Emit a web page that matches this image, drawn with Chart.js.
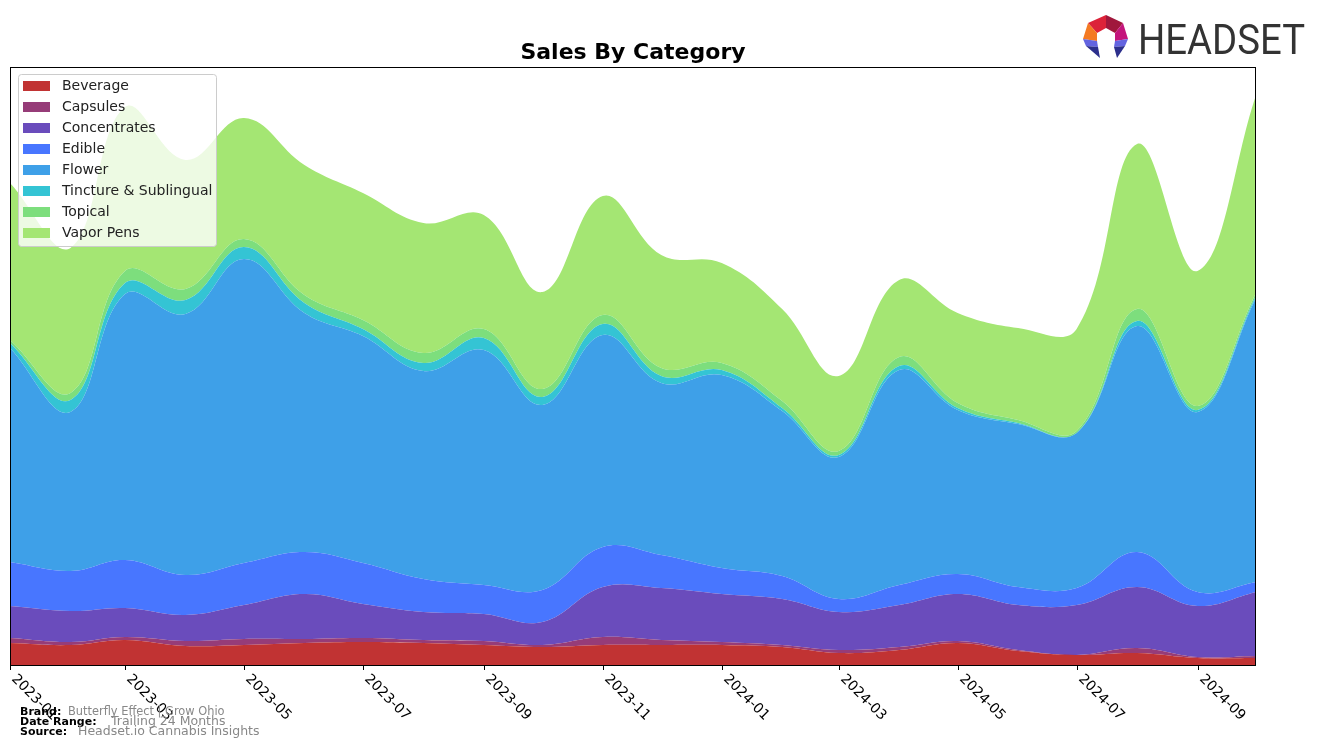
<!DOCTYPE html>
<html>
<head>
<meta charset="utf-8">
<script src="https://cdn.jsdelivr.net/npm/chart.js@4.4.1/dist/chart.umd.min.js"></script>
<style>
  body { margin: 0; background: #fff; }
  #wrap { width: 1320px; height: 748px; }
</style>
</head>
<body>
<div id="wrap"><canvas id="salesChart" width="1320" height="748"></canvas></div>
<script>
// Months on the x axis (one point per month)
const months = ['2023-01','2023-02','2023-03','2023-04','2023-05','2023-06','2023-07','2023-08',
    '2023-09','2023-10','2023-11','2023-12','2024-01','2024-02','2024-03','2024-04',
    '2024-05','2024-06','2024-07','2024-08','2024-09','2024-10'];
const tickMonths = ['2023-01','2023-03','2023-05','2023-07','2023-09','2023-11',
    '2024-01','2024-03','2024-05','2024-07','2024-09'];

// Series values (stacked)
const beverage     = [22,20,25,19,20,22,23,22,20,18,20,20,20,18,12,15,22,14,10,12,7,7];
const capsules     = [5,3,3,5,6,4,4,3,4,2,8,5,3,2,3,3,2,1,0,5,1,2];
const concentrates = [32,31,29,26,34,45,34,28,27,23,50,52,48,46,38,42,47,45,50,61,51,64];
const edible       = [44,40,48,40,42,42,41,33,29,32,40,33,26,23,13,20,20,18,17,35,14,10];
const flower       = [214,159,266,261,304,239,227,208,235,185,212,172,193,165,142,215,164,163,155,226,180,284];
const tincture     = [5,12,11,14,12,10,7,8,12,8,11,7,5,3,2,4,2,1,0,5,2,2];
const topical      = [3,7,12,11,8,8,9,10,9,8,9,8,7,7,4,9,5,3,2,12,4,3];
const vaporPens    = [157,145,164,129,121,130,127,130,114,97,119,113,100,92,75,77,90,92,102,165,135,198];

const yMax = 598;

// days since first month, so months sit at their real date positions
function dayOf(m) {
    const [y, mo] = m.split('-').map(Number);
    return (Date.UTC(y, mo - 1, 1) - Date.UTC(2023, 0, 1)) / 86400000;
}

function series(label, values, color, idx) {
    return {
        label: label,
        data: values.map((v, i) => ({ x: dayOf(months[i]), y: v })),
        backgroundColor: color,
        borderColor: 'rgba(0,0,0,0)',
        borderWidth: 0,
        pointRadius: 0,
        tension: 0.4,
        fill: idx === 0 ? 'origin' : '-1'
    };
}

const datasets = [
    series('Beverage', beverage, 'rgb(193,51,51)', 0),
    series('Capsules', capsules, 'rgb(150,60,120)', 1),
    series('Concentrates', concentrates, 'rgb(106,76,188)', 2),
    series('Edible', edible, 'rgb(72,118,255)', 3),
    series('Flower', flower, 'rgb(62,160,232)', 4),
    series('Tincture & Sublingual', tincture, 'rgb(52,196,212)', 5),
    series('Topical', topical, 'rgb(125,222,125)', 6),
    series('Vapor Pens', vaporPens, 'rgb(164,230,115)', 7)
];

// Frame, ticks, title, legend, footer and logo
const overlay = {
    id: 'overlay',
    afterDraw(chart) {
        const ctx = chart.ctx;
        const a = chart.chartArea;
        const xs = chart.scales.x;
        ctx.save();

        // axes frame
        ctx.strokeStyle = '#000';
        ctx.lineWidth = 1;
        ctx.strokeRect(a.left + 0.5, a.top + 0.5, a.right - a.left - 1, a.bottom - a.top);

        // x ticks and rotated labels
        ctx.font = '14px "DejaVu Sans"';
        ctx.fillStyle = '#000';
        ctx.textAlign = 'left';
        ctx.textBaseline = 'top';
        tickMonths.forEach(m => {
            const x = Math.round(xs.getPixelForValue(dayOf(m))) + 0.5;
            ctx.beginPath();
            ctx.moveTo(x, a.bottom);
            ctx.lineTo(x, a.bottom + 5);
            ctx.stroke();
            ctx.save();
            ctx.translate(x + 8, a.bottom + 7);
            ctx.rotate(Math.PI / 4);
            ctx.fillText(m, 0, 0);
            ctx.restore();
        });

        // title
        ctx.font = 'bold 22px "DejaVu Sans"';
        ctx.textAlign = 'center';
        ctx.textBaseline = 'middle';
        ctx.fillText('Sales By Category', (a.left + a.right) / 2, 53);

        // legend inside the plot, upper left
        const lx = 18, ly = 74, lw = 198, lh = 172;
        ctx.fillStyle = 'rgba(255,255,255,0.8)';
        ctx.strokeStyle = '#cccccc';
        ctx.beginPath();
        ctx.roundRect(lx + 0.5, ly + 0.5, lw, lh, 3);
        ctx.fill();
        ctx.stroke();
        ctx.font = '14px "DejaVu Sans"';
        ctx.textAlign = 'left';
        ctx.textBaseline = 'middle';
        chart.data.datasets.forEach((ds, i) => {
            const cy = 86 + i * 21;
            ctx.fillStyle = ds.backgroundColor;
            ctx.fillRect(23, cy - 5, 27, 10);
            ctx.fillStyle = '#222';
            ctx.fillText(ds.label, 62, cy);
        });

        // footer notes
        ctx.textBaseline = 'middle';
        ctx.fillStyle = '#000';
        ctx.font = 'bold 11px "DejaVu Sans"';
        ctx.fillText('Brand:', 20, 712);
        ctx.fillText('Date Range:', 20, 722);
        ctx.fillText('Source:', 20, 732);
        ctx.fillStyle = '#888';
        ctx.font = '11.4px "DejaVu Sans"';
        ctx.fillText('Butterfly Effect | Grow Ohio', 68, 712);
        ctx.font = '12.5px "DejaVu Sans"';
        ctx.fillText('Trailing 24 Months', 111, 722);
        ctx.fillText('Headset.io Cannabis Insights', 78, 732);

        // logo icon
        const poly = (pts, c) => {
            ctx.fillStyle = c;
            ctx.beginPath();
            ctx.moveTo(pts[0][0], pts[0][1]);
            pts.slice(1).forEach(p => ctx.lineTo(p[0], p[1]));
            ctx.closePath();
            ctx.fill();
        };
        poly([[1088,23],[1106,15],[1106,28],[1097,33]], '#dc2239');
        poly([[1106,15],[1123,23],[1115,33],[1106,28]], '#a0173c');
        poly([[1088,23],[1097,33],[1097,41],[1083,39]], '#f47a22');
        poly([[1123,23],[1128,39],[1115,41],[1115,33]], '#c4157c');
        poly([[1083,39],[1097,41],[1098,47],[1086,46]], '#6364e0');
        poly([[1086,46],[1098,47],[1100,58]], '#2c2f8c');
        poly([[1128,39],[1115,41],[1114,47],[1125,46]], '#6364e0');
        poly([[1125,46],[1114,47],[1117,58]], '#2c2f8c');

        // logo text
        ctx.fillStyle = '#333';
        ctx.font = '42px Roboto, "DejaVu Sans", sans-serif';
        ctx.textAlign = 'left';
        ctx.textBaseline = 'alphabetic';
        const tw = ctx.measureText('HEADSET').width;
        ctx.save();
        ctx.translate(1138, 54);
        ctx.scale(167 / tw, 1);
        ctx.fillText('HEADSET', 0, 0);
        ctx.restore();

        ctx.restore();
    }
};

const chart = new Chart(document.getElementById('salesChart').getContext('2d'), {
    type: 'line',
    data: { datasets: datasets },
    options: {
        responsive: false,
        animation: false,
        devicePixelRatio: 1,
        layout: { padding: { left: 10, top: 67, right: 64, bottom: 83 } },
        plugins: {
            legend: { display: false },
            title: { display: false },
            tooltip: { enabled: false }
        },
        scales: {
            x: {
                type: 'linear',
                display: false,
                min: dayOf(months[0]),
                max: dayOf(months[months.length - 1])
            },
            y: {
                stacked: true,
                display: false,
                min: 0,
                max: yMax
            }
        }
    },
    plugins: [overlay]
});
</script>
</body>
</html>
